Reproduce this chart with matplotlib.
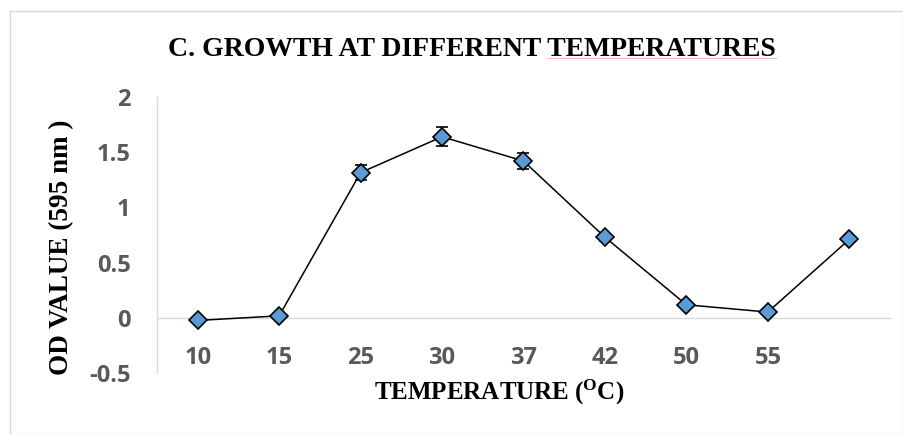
import matplotlib
matplotlib.use("Agg")
import matplotlib.pyplot as plt
from matplotlib.patches import Rectangle
from matplotlib.lines import Line2D

plt.rcParams["mathtext.fontset"] = "custom"
plt.rcParams["mathtext.bf"] = "Liberation Serif:bold"
plt.rcParams["mathtext.rm"] = "Liberation Serif:bold"

categories = ["10", "15", "25", "30", "37", "42", "50", "55", ""]
od_values = [-0.024, 0.018, 1.315, 1.64, 1.42, 0.73, 0.118, 0.052, 0.71]
od_errors = [0.02, 0.02, 0.07, 0.085, 0.073, 0.03, 0.02, 0.02, 0.02]
y_ticks = [-0.5, 0, 0.5, 1, 1.5, 2]
y_tick_labels = ["-0.5", "0", "0.5", "1", "1.5", "2"]
title_text = "C. GROWTH AT DIFFERENT TEMPERATURES"

W, H = 904, 434
fig = plt.figure(figsize=(W / 100, H / 100), dpi=100)
fig.patch.set_facecolor("white")

# outer chart border
fig.patches.append(Rectangle((10 / W, 0), (W - 11) / W, (H - 11) / H,
                             transform=fig.transFigure, fill=False,
                             edgecolor="#d9d9d9", linewidth=1.0))

ax = fig.add_axes([157 / W, (H - 373) / H, (890 - 157) / W, (373 - 97) / H])
x = list(range(len(categories)))
ax.errorbar(x, od_values, yerr=od_errors, color="black", linewidth=1.1,
            ecolor="black", elinewidth=1.1, capsize=4.5, capthick=1.3,
            marker="D", markersize=9.5, markerfacecolor="#5b9bd5",
            markeredgecolor="black", markeredgewidth=1.2, zorder=3)

ax.set_xlim(-0.5, len(categories) - 0.5)
ax.set_ylim(-0.5, 2)
ax.set_yticks(y_ticks)
ax.set_yticklabels(y_tick_labels)
ax.set_xticks(x)
ax.set_xticklabels(categories)

for s in ["top", "right"]:
    ax.spines[s].set_visible(False)
ax.spines["bottom"].set_position(("data", 0))
ax.spines["bottom"].set_color("#d9d9d9")
ax.spines["left"].set_color("#d9d9d9")
ax.spines["bottom"].set_linewidth(1.0)
ax.spines["left"].set_linewidth(1.0)
ax.tick_params(axis="both", length=0)
ax.tick_params(axis="x", pad=20)
ax.tick_params(axis="y", pad=19)
for lab in ax.get_xticklabels() + ax.get_yticklabels():
    lab.set_fontfamily("Open Sans")
    lab.set_fontweight("bold")
    lab.set_fontsize(17)
    lab.set_color("#595959")

title = fig.text(472 / W, 1 - 49 / H, title_text,
                 ha="center", va="center", fontfamily="Liberation Serif",
                 fontweight="bold", fontsize=20, color="black")
fig.text(499 / W, 1 - 392 / H, r"TEMPERATURE ($\mathbf{^{O}}$C)",
         ha="center", va="center", fontfamily="Liberation Serif",
         fontweight="bold", fontsize=18, color="black")
fig.text(62 / W, 1 - 247 / H, "OD VALUE (595 nm )", rotation=90,
         ha="center", va="center", fontfamily="Liberation Serif",
         fontweight="bold", fontsize=19.5, color="black")

# faint spell-check underline under the last word of the title
fig.canvas.draw()
r = fig.canvas.get_renderer()
tb = title.get_window_extent(r)
probe = fig.text(0, 0, title_text[:title_text.rfind(" ")] + " ",
                 fontfamily="Liberation Serif", fontweight="bold",
                 fontsize=20)
pw = probe.get_window_extent(r).width
probe.remove()
x0 = (tb.x0 + pw) / W
x1 = tb.x1 / W
yl = (tb.y0 + 4) / H
fig.lines.append(Line2D([x0, x1], [yl, yl], transform=fig.transFigure,
                        color="#f6b8b8", linewidth=0.9))

fig.savefig("out.png", dpi=100)
